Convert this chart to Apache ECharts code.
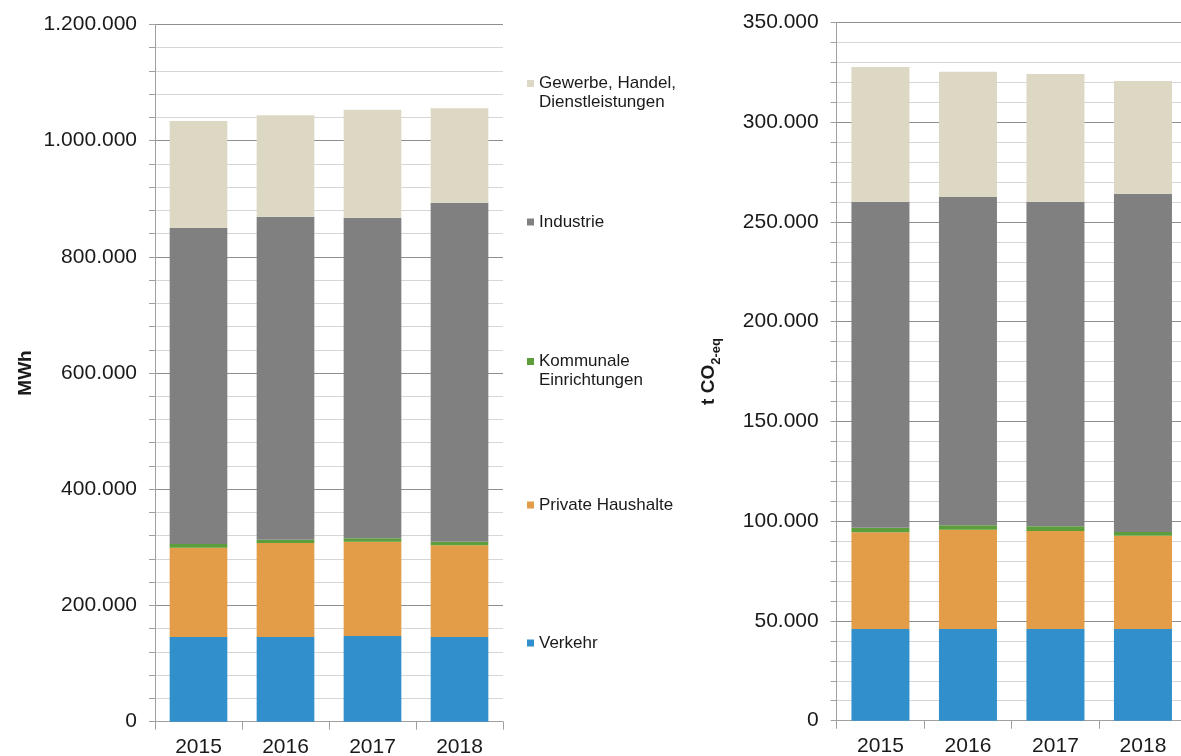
<!DOCTYPE html>
<html>
<head>
<meta charset="utf-8">
<script src="https://cdn.jsdelivr.net/npm/echarts@6/dist/echarts.min.js"></script>
<style>
  html, body { margin: 0; padding: 0; background: #ffffff; }
  #chart { width: 1181px; height: 756px; }
</style>
</head>
<body>
<div id="chart"></div>
<script>
// Kategorien (Jahre)
const years = ['2015', '2016', '2017', '2018'];

// Sektoren, von unten nach oben gestapelt
const sectors = ['Verkehr', 'Private Haushalte', 'Kommunale Einrichtungen', 'Industrie', 'Gewerbe, Handel, Dienstleistungen'];

// Endenergieverbrauch in MWh
const verkehrMWh   = [145700, 145700, 147500, 145700];
const haushalteMWh = [153700, 161800, 162200, 157800];
const kommunalMWh  = [6400, 5700, 5800, 6200];
const industrieMWh = [543700, 555800, 551700, 583300];
const ghdMWh       = [184100, 174400, 185900, 162500];

// THG-Emissionen in t CO2-eq
const verkehrCO2   = [46000, 46000, 46000, 46000];
const haushalteCO2 = [48400, 49700, 49100, 46700];
const kommunalCO2  = [2300, 2200, 2300, 1900];
const industrieCO2 = [163400, 164500, 162700, 169500];
const ghdCO2       = [67500, 62800, 64000, 56500];

// Achsenbereiche
const energyAxisMax = 1200000;
const energyAxisStep = 200000;
const co2AxisMax = 350000;
const co2AxisStep = 50000;

const colors = ['#3190cc', '#e39c48', '#5b9e3b', '#808080', '#ddd8c4'];
const FONT = '"Liberation Sans", Arial, sans-serif';

const fmt = v => String(v).replace(/\B(?=(\d{3})+(?!\d))/g, '.');

const energyData = [verkehrMWh, haushalteMWh, kommunalMWh, industrieMWh, ghdMWh];
const co2Data = [verkehrCO2, haushalteCO2, kommunalCO2, industrieCO2, ghdCO2];

function buildSeries(dataSets, axisIndex, stack) {
  return sectors.map((name, i) => ({
    name: name,
    type: 'bar',
    stack: stack,
    xAxisIndex: axisIndex,
    yAxisIndex: axisIndex,
    barWidth: '66.3%',
    itemStyle: { color: colors[i] },
    emphasis: { disabled: true },
    data: dataSets[i]
  }));
}

function valueAxis(gridIndex, max, step, name, nameGap, nameStyle) {
  return {
    type: 'value',
    gridIndex: gridIndex,
    min: 0,
    max: max,
    interval: step,
    name: name,
    nameLocation: 'middle',
    nameGap: nameGap,
    nameTextStyle: nameStyle,
    axisLine: { show: true, lineStyle: { color: '#a0a0a0', width: 1 } },
    axisTick: { show: true, length: 6, lineStyle: { color: '#a0a0a0' } },
    minorTick: { show: true, splitNumber: 5, length: 6, lineStyle: { color: '#a0a0a0' } },
    splitLine: { show: true, lineStyle: { color: '#8e8e8e', width: 1 } },
    minorSplitLine: { show: true, lineStyle: { color: '#d6d6d6', width: 1 } },
    axisLabel: {
      formatter: v => fmt(v),
      color: '#1a1a1a',
      fontFamily: FONT,
      fontSize: 21,
      margin: 18
    }
  };
}

function categoryAxis(gridIndex) {
  return {
    type: 'category',
    gridIndex: gridIndex,
    data: years,
    axisLine: { show: true, lineStyle: { color: '#a0a0a0', width: 1 } },
    axisTick: { show: true, alignWithLabel: false, length: 8, lineStyle: { color: '#a0a0a0' } },
    axisLabel: { color: '#1a1a1a', fontFamily: FONT, fontSize: 21, margin: 15 }
  };
}

// Legende: je Eintrag eine eigene Komponente, frei positioniert zwischen den Diagrammen
const legendNames = {
  'Gewerbe, Handel, Dienstleistungen': '\nGewerbe, Handel,\nDienstleistungen',
  'Industrie': 'Industrie',
  'Kommunale Einrichtungen': '\nKommunale\nEinrichtungen',
  'Private Haushalte': 'Private Haushalte',
  'Verkehr': 'Verkehr'
};
const legendTops = {
  'Gewerbe, Handel, Dienstleistungen': 55,
  'Industrie': 212.5,
  'Kommunale Einrichtungen': 333,
  'Private Haushalte': 495.5,
  'Verkehr': 633.5
};
const legends = Object.keys(legendNames).map(name => ({
  data: [name],
  left: 527,
  top: legendTops[name],
  orient: 'vertical',
  padding: 0,
  icon: 'rect',
  itemWidth: 7,
  itemHeight: 7,
  selectedMode: false,
  formatter: n => legendNames[n],
  textStyle: { color: '#1a1a1a', fontFamily: FONT, fontSize: 17, lineHeight: 19 }
}));

const chart = echarts.init(document.getElementById('chart'), null, { renderer: 'canvas' });

chart.setOption({
  animation: false,
  backgroundColor: '#ffffff',
  textStyle: { fontFamily: FONT },
  legend: legends,
  grid: [
    { left: 155, top: 24.3, width: 348, height: 697.4, outerBoundsMode: 'none', containLabel: false },
    { left: 836.7, top: 22.3, width: 350, height: 698.4, outerBoundsMode: 'none', containLabel: false }
  ],
  xAxis: [categoryAxis(0), categoryAxis(1)],
  yAxis: [
    valueAxis(0, energyAxisMax, energyAxisStep, 'MWh', 120,
      { color: '#1a1a1a', fontFamily: FONT, fontSize: 19, fontWeight: 'bold' }),
    valueAxis(1, co2AxisMax, co2AxisStep, '{b|t CO}{s|2-eq}', 118,
      {
        color: '#1a1a1a', fontFamily: FONT, fontSize: 19, fontWeight: 'bold',
        rich: {
          b: { fontFamily: FONT, fontSize: 19, fontWeight: 'bold', color: '#1a1a1a' },
          s: { fontFamily: FONT, fontSize: 13, fontWeight: 'bold', color: '#1a1a1a',
               verticalAlign: 'top', lineHeight: 13, padding: [10, 0, 0, 0] }
        }
      })
  ],
  series: buildSeries(energyData, 0, 'energie').concat(buildSeries(co2Data, 1, 'emission'))
});
</script>
</body>
</html>
